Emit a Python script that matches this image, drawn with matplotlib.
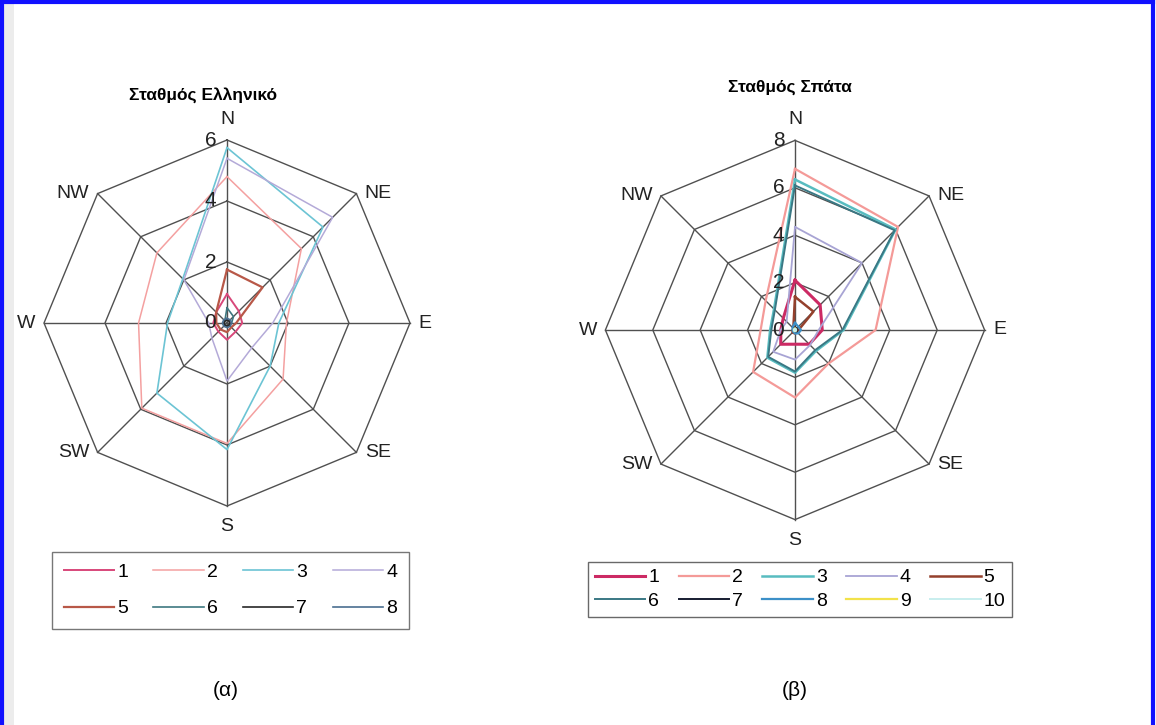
import numpy as np
import matplotlib
matplotlib.use("Agg")
import matplotlib.pyplot as plt
from matplotlib.patches import Rectangle
from matplotlib.lines import Line2D

plt.rcParams['font.family'] = ['Liberation Sans', 'DejaVu Sans']

# ---------------- data ----------------
directions = ["N", "NE", "E", "SE", "S", "SW", "W", "NW"]

title_left = "Σταθμός Ελληνικό"
title_right = "Σταθμός Σπάτα"
caption_left = "(α)"
caption_right = "(β)"

ticks_left = [0, 2, 4, 6]
ticks_right = [0, 2, 4, 6, 8]

# Ellinikon station, series 1..8 (values per direction N..NW)
ell_1 = [0.95, 0.55, 0.50, 0.40, 0.55, 0.40, 0.45, 0.50]
ell_2 = [4.80, 3.45, 1.95, 2.60, 3.95, 3.95, 2.90, 3.25]
ell_3 = [5.75, 4.45, 1.70, 2.00, 4.15, 3.25, 1.95, 2.05]
ell_4 = [5.40, 4.90, 1.50, 1.15, 1.90, 0.70, 0.60, 2.00]
ell_5 = [1.75, 1.65, 0.30, 0.20, 0.30, 0.30, 0.35, 0.50]
ell_6 = [0.50, 0.30, 0.15, 0.10, 0.10, 0.10, 0.10, 0.10]
ell_7 = [0.10, 0.10, 0.10, 0.10, 0.10, 0.10, 0.10, 0.10]
ell_8 = [0.15, 0.15, 0.15, 0.15, 0.15, 0.15, 0.15, 0.15]
ell_labels = ["1", "2", "3", "4", "5", "6", "7", "8"]

# Spata station, series 1..10
spa_1 = [2.10, 1.50, 1.15, 0.85, 0.60, 0.85, 0.60, 0.70]
spa_2 = [6.80, 6.15, 3.40, 2.00, 2.85, 2.50, 1.45, 1.75]
spa_3 = [6.35, 6.00, 2.05, 1.25, 1.80, 1.65, 1.05, 1.25]
spa_4 = [4.35, 4.00, 1.00, 0.90, 1.25, 1.30, 0.60, 0.50]
spa_5 = [1.40, 1.10, 0.15, 0.10, 0.15, 0.15, 0.10, 0.10]
spa_6 = [6.10, 5.95, 2.00, 1.20, 1.75, 1.60, 1.00, 1.20]
spa_7 = [0.10, 0.10, 0.10, 0.10, 0.10, 0.10, 0.10, 0.10]
spa_8 = [0.30, 0.20, 0.25, 0.20, 0.15, 0.10, 0.10, 0.15]
spa_9 = [0.05, 0.05, 0.05, 0.05, 0.05, 0.05, 0.05, 0.05]
spa_10 = [0.05, 0.05, 0.05, 0.05, 0.05, 0.05, 0.05, 0.05]
spa_labels = ["1", "2", "3", "4", "5", "6", "7", "8", "9", "10"]

# ---------------- styles ----------------
ell_colors = ["#d8487a", "#f4a0a0", "#6cc4d4", "#b4aad8", "#b85848", "#3e7880", "#282828", "#4a6e90"]
ell_widths = [1.4, 1.1, 1.2, 1.1, 1.6, 1.2, 1.2, 1.2]
spa_colors = ["#cc2a64", "#f49a98", "#58bcc0", "#a8a4d4", "#94402c", "#3a7884", "#161c30", "#3c90c8", "#f2e24a", "#c8eeee"]
spa_widths = [2.2, 1.6, 1.8, 1.3, 1.8, 1.4, 1.4, 1.6, 1.6, 1.4]

FS = 14
grid_color = "#505050"

fig = plt.figure(figsize=(11.56, 7.25), dpi=100)
W, H = 1156, 725


def make_axes(cx, cy, unit, half):
    w = 2 * half * unit
    ax = fig.add_axes([(cx - half * unit) / W, (H - cy - half * unit) / H, w / W, w / H])
    ax.set_xlim(-half, half)
    ax.set_ylim(-half, half)
    ax.set_aspect('equal')
    ax.axis('off')
    return ax


def radar(ax, series, colors, widths, rings, rmax, tick_off):
    n = len(directions)
    ang = np.arange(n) * 2 * np.pi / n
    sx, sy = np.sin(ang), np.cos(ang)
    for r in rings[1:]:
        ax.plot(np.append(r * sx, r * sx[0]), np.append(r * sy, r * sy[0]),
                color=grid_color, lw=1.0, zorder=1)
    for i in range(n):
        ax.plot([0, rmax * sx[i]], [0, rmax * sy[i]], color=grid_color, lw=1.0, zorder=1)
    for r in rings:
        ax.text(-tick_off, r, str(r), ha='right', va='center', fontsize=FS + 1, color='#222', zorder=5)
    pad = rmax * 0.045
    for i, d in enumerate(directions):
        x, y = rmax * sx[i], rmax * sy[i]
        if d == "N":
            ax.text(x, y + pad * 1.5, d, ha='center', va='bottom', fontsize=FS, color='#222')
        elif d == "S":
            ax.text(x, y - pad * 1.5, d, ha='center', va='top', fontsize=FS, color='#222')
        elif sx[i] > 0.1:
            ax.text(x + pad, y, d, ha='left', va='center', fontsize=FS, color='#222')
        else:
            ax.text(x - pad, y, d, ha='right', va='center', fontsize=FS, color='#222')
    for vals, c, lw in zip(series, colors, widths):
        v = np.asarray(vals)
        ax.plot(np.append(v * sx, v[0] * sx[0]), np.append(v * sy, v[0] * sy[0]),
                color=c, lw=lw, zorder=3)


def row_major(items, ncol):
    nrow = int(np.ceil(len(items) / ncol))
    return [items[r * ncol + c] for c in range(ncol) for r in range(nrow) if r * ncol + c < len(items)]


# ---- left chart ----
axL = make_axes(227, 323, 30.5, 7.0)
ell_series = [ell_1, ell_2, ell_3, ell_4, ell_5, ell_6, ell_7, ell_8]
radar(axL, ell_series, ell_colors, ell_widths, ticks_left, ticks_left[-1], 0.35)
fig.text(203 / W, 1 - 95 / H, title_left, ha='center', va='center', fontsize=12.5, fontweight='bold')

# ---- right chart ----
axR = make_axes(795, 330, 23.7, 9.0)
spa_series = [spa_1, spa_2, spa_3, spa_4, spa_5, spa_6, spa_7, spa_8, spa_9, spa_10]
radar(axR, spa_series, spa_colors, spa_widths, ticks_right, ticks_right[-1], 0.45)
fig.text(790 / W, 1 - 87 / H, title_right, ha='center', va='center', fontsize=12.5, fontweight='bold')

# ---- legends ----
hL = [Line2D([], [], color=c, lw=lw) for c, lw in zip(ell_colors, ell_widths)]
legL = fig.legend(row_major(hL, 4), row_major(ell_labels, 4), ncol=4, loc='upper left',
                  bbox_to_anchor=(52 / W, 1 - 552 / H),
                  frameon=True, fancybox=False, fontsize=FS, handlelength=2.6, handletextpad=0.15,
                  columnspacing=1.3, labelspacing=0.95, borderpad=0.6, borderaxespad=0)
legL.get_frame().set_edgecolor('#555')
legL.get_frame().set_linewidth(1.0)

hR = [Line2D([], [], color=c, lw=lw) for c, lw in zip(spa_colors, spa_widths)]
legR = fig.legend(row_major(hR, 5), row_major(spa_labels, 5), ncol=5, loc='upper left',
                  bbox_to_anchor=(588 / W, 1 - 562 / H),
                  frameon=True, fancybox=False, fontsize=FS, handlelength=2.6, handletextpad=0.15,
                  columnspacing=1.0, labelspacing=0.3, borderpad=0.35, borderaxespad=0)
legR.get_frame().set_edgecolor('#444')
legR.get_frame().set_linewidth(1.0)

# captions
fig.text(226 / W, 1 - 690 / H, caption_left, ha='center', va='center', fontsize=15)
fig.text(795 / W, 1 - 690 / H, caption_right, ha='center', va='center', fontsize=15)

# page border (blue) and scan shading
fig.patches.append(Rectangle((3 / W, 0), 11 / W, 1 - 4 / H, transform=fig.transFigure,
                             facecolor='#ececec', edgecolor='none', zorder=0))
for xs, ys in [([2 / W, 2 / W], [0, 1 - 2 / H]), ([2 / W, 1 - 3 / W], [1 - 2 / H, 1 - 2 / H]),
               ([1 - 3 / W, 1 - 3 / W], [1 - 2 / H, 0])]:
    fig.add_artist(Line2D(xs, ys, transform=fig.transFigure, color='#1010ff', lw=3))

fig.savefig("out.png", dpi=100)
